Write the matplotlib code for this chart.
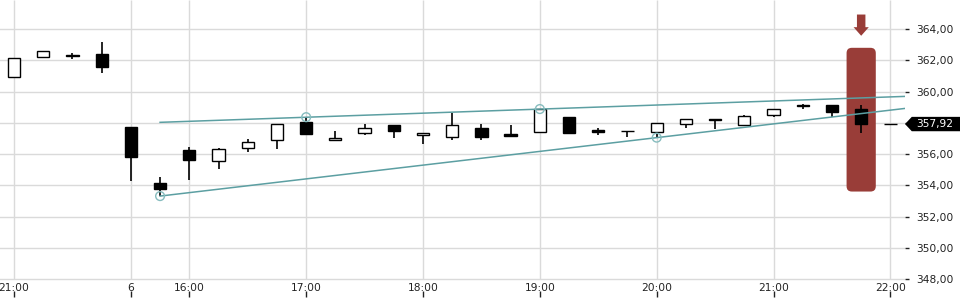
import numpy as np
import matplotlib
matplotlib.use('Agg')
import matplotlib.pyplot as plt
from matplotlib.patches import FancyBboxPatch, Polygon
import matplotlib.transforms as mtransforms

# 15-min candles (index based, overnight gap removed)
opens = [360.95, 362.19, 362.31, 362.40, 357.71, 354.14, 356.26, 355.57, 356.36, 356.88,
         358.03, 356.92, 357.32, 357.86, 357.20, 357.11, 357.64, 357.30, 357.43, 358.37,
         357.54, 357.49, 357.39, 357.90, 358.23, 357.84, 358.47, 359.14, 359.14, 358.88, 357.92]
highs = [362.12, 362.57, 362.46, 363.17, 357.71, 354.53, 356.43, 356.36, 356.96, 357.90,
         358.35, 357.47, 357.92, 357.86, 357.34, 358.64, 357.92, 357.88, 358.90, 358.37,
         357.68, 357.49, 357.96, 358.22, 358.23, 358.50, 358.86, 359.20, 359.14, 359.14, 357.92]
lows = [360.95, 362.19, 362.10, 361.20, 354.29, 353.31, 354.36, 355.06, 356.15, 356.34,
        357.30, 356.92, 357.24, 357.04, 356.62, 356.92, 356.92, 357.17, 357.43, 357.36,
        357.24, 357.10, 357.08, 357.68, 357.62, 357.84, 358.39, 358.86, 358.39, 357.36, 357.92]
closes = [362.12, 362.57, 362.27, 361.59, 355.83, 353.78, 355.64, 356.30, 356.75, 357.90,
          357.30, 357.04, 357.64, 357.49, 357.34, 357.86, 357.11, 357.17, 358.86, 357.36,
          357.41, 357.46, 357.96, 358.22, 358.20, 358.43, 358.86, 359.05, 358.71, 357.94, 357.92]

x_tick_pos = [0, 4, 6, 10, 14, 18, 22, 26, 30]
x_tick_labels = ['21:00', '6', '16:00', '17:00', '18:00', '19:00', '20:00', '21:00', '22:00']
y_ticks = [348, 350, 352, 354, 356, 358, 360, 362, 364]
y_tick_labels = ['348,00', '350,00', '352,00', '354,00', '356,00', '358,00', '360,00', '362,00', '364,00']

# trend channel: start / end points (index, price) and touch points
upper_line = ([5, 30.5], [358.03, 359.69])
lower_line = ([5, 30.5], [353.31, 358.92])
touch_x = [10, 18, 5, 22]
touch_y = [358.36, 358.88, 353.31, 357.05]

highlight_idx = 29
highlight_range = (353.6, 362.8)
last_price = 357.92

teal = '#5c9fa2'
red = '#993d38'
grid_c = '#dadada'

fig = plt.figure(figsize=(9.6, 3.0), dpi=100)
ax = fig.add_axes([0, 0.01, 905 / 960, 0.99])
ymin, ymax = 346.85, 365.86
ax.set_xlim(-0.48, 30.5)
ax.set_ylim(ymin, ymax)

# grid
for yv in y_ticks:
    ax.axhline(yv, color=grid_c, lw=1, zorder=0)
ax.vlines(x_tick_pos, 348, ymax, color=grid_c, lw=1, zorder=0)

# highlight box
w = 1.0
box = FancyBboxPatch((highlight_idx - w / 2, highlight_range[0]), w, highlight_range[1] - highlight_range[0],
                     boxstyle='round,pad=0,rounding_size=0.18', mutation_aspect=1.87,
                     facecolor=red, edgecolor='none', zorder=1)
ax.add_patch(box)

# arrow above box
tip = 363.57
ax.add_patch(Polygon([(highlight_idx - 0.145, 364.93), (highlight_idx + 0.145, 364.93),
                      (highlight_idx + 0.145, tip + 0.55), (highlight_idx + 0.26, tip + 0.55),
                      (highlight_idx, tip), (highlight_idx - 0.26, tip + 0.55),
                      (highlight_idx - 0.145, tip + 0.55)],
                     closed=True, facecolor=red, edgecolor='none', zorder=1, clip_on=False))

# candles
idx = np.arange(len(opens))
o = np.array(opens); c = np.array(closes)
ax.vlines(idx, lows, highs, color='black', lw=1.2, zorder=3)
colors = ['white' if cc > oo else 'black' for oo, cc in zip(o, c)]
bottoms = np.minimum(o, c)
heights = np.abs(c - o)
ax.bar(idx, heights, bottom=bottoms, width=0.42, color=colors, edgecolor='black', lw=1, zorder=4)

# trend channel
ax.plot(*upper_line, color=teal, lw=1.1, zorder=5)
ax.plot(*lower_line, color=teal, lw=1.1, zorder=5)
ax.scatter(touch_x, touch_y, s=40, facecolors='none', edgecolors='#86bcbe', lw=1, zorder=6)

# axes styling
for s in ax.spines.values():
    s.set_visible(False)
ax.set_xticks(x_tick_pos)
ax.set_xticklabels(x_tick_labels)
ax.tick_params(axis='x', direction='in', length=4, width=1, color='#222222', pad=-10,
               labelsize=7.7, labelcolor='#222222')
ax.yaxis.tick_right()
ax.set_yticks(y_ticks)
ax.set_yticklabels(y_tick_labels)
ax.tick_params(axis='y', direction='out', length=3, width=1, color='#222222', pad=5,
               labelsize=7.7, labelcolor='#222222')

# last price tag
trans = mtransforms.blended_transform_factory(ax.transAxes, ax.transData)
hh = 0.46
ax.add_patch(Polygon([(1.0, last_price), (1.0075, last_price + hh), (1.07, last_price + hh),
                      (1.07, last_price - hh), (1.0075, last_price - hh)],
                     closed=True, transform=trans, facecolor='black', edgecolor='none',
                     clip_on=False, zorder=7))
ax.text(1.0125, last_price, '357,92', transform=trans, color='white', fontsize=7.7,
        va='center', ha='left', zorder=8, clip_on=False)

fig.savefig('out.png', dpi=100)
